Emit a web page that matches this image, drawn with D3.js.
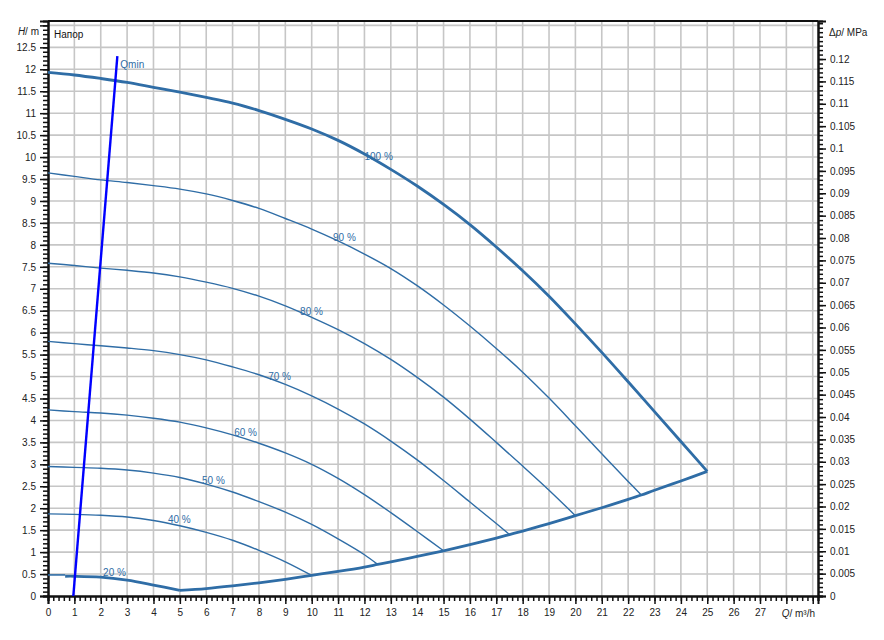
<!DOCTYPE html>
<html><head><meta charset="utf-8">
<script src="https://cdn.jsdelivr.net/npm/d3@7"></script>
<style>
body{margin:0;background:#fff;}
svg text{font-family:"Liberation Sans",Arial,sans-serif;}
</style></head>
<body><svg id="c" width="884" height="640"></svg>
<script>
// ---- data (Q in m³/h, H in m) ----
const curve100 = [[0,11.93],[1,11.87],[2,11.79],[3,11.7],[4,11.59],[5,11.48],[6,11.36],[7,11.23],[8,11.06],[9,10.86],[10,10.64],[11,10.38],[12,10.07],[13,9.72],[14,9.34],[15,8.92],[16,8.46],[17,7.95],[18,7.41],[19,6.83],[20,6.2],[21,5.55],[22,4.88],[23,4.2],[24,3.52],[25,2.84]];
const curve90 = [[0,9.64],[1,9.56],[2,9.48],[3,9.42],[4,9.35],[5,9.27],[6,9.16],[7,9.01],[8,8.83],[9,8.6],[10,8.36],[11,8.09],[12,7.79],[13,7.46],[14,7.07],[15,6.63],[16,6.15],[17,5.64],[18,5.1],[19,4.51],[20,3.88],[21,3.24],[22,2.61],[22.5,2.3]];
const curve80 = [[0,7.58],[1,7.53],[2,7.47],[3,7.42],[4,7.36],[5,7.27],[6,7.15],[7,7.01],[8,6.83],[9,6.61],[10,6.35],[11,6.07],[12,5.75],[13,5.39],[14,4.98],[15,4.53],[16,4.03],[17,3.5],[18,2.96],[19,2.41],[20,1.83]];
const curve70 = [[0,5.8],[1,5.75],[2,5.7],[3,5.65],[4,5.59],[5,5.5],[6,5.38],[7,5.22],[8,5.04],[9,4.82],[10,4.56],[11,4.26],[12,3.92],[13,3.53],[14,3.1],[15,2.63],[16,2.14],[17,1.65],[17.5,1.4]];
const curve60 = [[0,4.24],[1,4.2],[2,4.17],[3,4.12],[4,4.05],[5,3.96],[6,3.83],[7,3.67],[8,3.48],[9,3.26],[10,3.0],[11,2.68],[12,2.31],[13,1.9],[14,1.47],[15,1.03]];
const curve50 = [[0,2.95],[1,2.93],[2,2.91],[3,2.87],[4,2.8],[5,2.7],[6,2.55],[7,2.37],[8,2.15],[9,1.91],[10,1.63],[11,1.3],[12,0.94],[12.5,0.72]];
const curve40 = [[0,1.87],[1,1.86],[2,1.84],[3,1.8],[4,1.72],[5,1.6],[6,1.45],[7,1.27],[8,1.04],[9,0.78],[10,0.47]];
const curve20start = [[0,0.48],[0.65,0.48]];
const curve20 = [[0.65,0.45],[1,0.45],[2,0.43],[3,0.36],[4,0.25],[5,0.13]];
const systemCurve = [[5,0.13],[6,0.17],[7,0.23],[8,0.3],[9,0.38],[10,0.47],[11,0.56],[12,0.66],[12.5,0.72],[13,0.78],[14,0.9],[15,1.03],[16,1.17],[17,1.32],[17.5,1.4],[18,1.48],[19,1.65],[20,1.83],[21,2.01],[22,2.2],[22.5,2.3],[23,2.41],[24,2.62],[25,2.84]];
const qminLine = [[0.96,0],[2.63,12.3]];
const curveLabels = ["100 %","90 %","80 %","70 %","60 %","50 %","40 %","20 %"];
const labelPos = [[12.0,10.0],[10.81,8.14],[9.56,6.46],[8.35,4.97],[7.06,3.7],[5.84,2.62],[4.55,1.73],[2.09,0.52]];
const xTicks = d3.range(0,28,1);            // labels 0..27
const yTicks = d3.range(0,12.51,0.5);       // 0..12.5
const pTicks = d3.range(0,0.1201,0.005);    // 0..0.12 MPa

// ---- layout ----
const svg = d3.select("#c");
const L=48, R=818, T=21, B=596;
const x = d3.scaleLinear().domain([0,29.2]).range([L,R]);
const y = d3.scaleLinear().domain([0,13.1]).range([B,T]);
const p = d3.scaleLinear().domain([0,0.1285]).range([B,T]);
const blue = "#2f6da6";

// grid
const g = svg.append("g");
g.selectAll(".vg").data(d3.range(1,30)).join("line")
  .attr("x1",d=>x(d)).attr("x2",d=>x(d)).attr("y1",T).attr("y2",B)
  .attr("stroke","#c6c6c6").attr("stroke-width",1.6);
g.selectAll(".hg").data(d3.range(0.5,13.01,0.5)).join("line")
  .attr("y1",d=>y(d)).attr("y2",d=>y(d)).attr("x1",L).attr("x2",R)
  .attr("stroke","#c6c6c6").attr("stroke-width",1.6);

// axes
const tickCol="#111";
const ax = svg.append("g").attr("transform",`translate(0,${B})`)
  .call(d3.axisBottom(x).tickValues(d3.range(0,29.21,0.2)).tickFormat("").tickSize(5));
const axM = svg.append("g").attr("transform",`translate(0,${B})`)
  .call(d3.axisBottom(x).tickValues(xTicks.concat([28,29])).tickFormat((d)=> d<=27? d:"").tickSize(8).tickPadding(5));
const ay = svg.append("g").attr("transform",`translate(${L},0)`)
  .call(d3.axisLeft(y).tickValues(d3.range(0,13.01,0.1)).tickFormat("").tickSize(5));
const ayM = svg.append("g").attr("transform",`translate(${L},0)`)
  .call(d3.axisLeft(y).tickValues(yTicks.concat([13])).tickFormat(d=> d<=12.5? d:"").tickSize(8).tickPadding(4));
const ap = svg.append("g").attr("transform",`translate(${R},0)`)
  .call(d3.axisRight(p).tickValues(d3.range(0,0.1281,0.001)).tickFormat("").tickSize(5));
const apM = svg.append("g").attr("transform",`translate(${R},0)`)
  .call(d3.axisRight(p).tickValues(pTicks).tickFormat(d=>String(+d.toFixed(3))).tickSize(8).tickPadding(4));
[ax,axM,ay,ayM,ap,apM].forEach(a=>{
  a.selectAll("path").attr("stroke",tickCol).attr("stroke-width",2);
  a.selectAll("line").attr("stroke",tickCol).attr("stroke-width",1.5);
  a.selectAll("text").attr("font-size",10).attr("fill","#222").attr("font-family","Liberation Sans, Arial, sans-serif");
});
// frame top
svg.append("line").attr("x1",L).attr("x2",R).attr("y1",T).attr("y2",T).attr("stroke",tickCol).attr("stroke-width",2);

// axis titles
const t1 = svg.append("text").attr("x",39).attr("y",35).attr("text-anchor","end").attr("font-size",10).attr("fill","#222");
t1.append("tspan").attr("font-style","italic").text("H");
t1.append("tspan").text("/ m");
const t2 = svg.append("text").attr("x",829).attr("y",36).attr("font-size",10).attr("fill","#222");
t2.append("tspan").text("Δ");
t2.append("tspan").attr("font-style","italic").text("p");
t2.append("tspan").text("/ MPa");
const t3 = svg.append("text").attr("x",815).attr("y",617).attr("text-anchor","end").attr("font-size",10).attr("fill","#222");
t3.append("tspan").attr("font-style","italic").text("Q");
t3.append("tspan").text("/ m³/h");
svg.append("text").attr("x",54).attr("y",38).attr("font-size",10).attr("fill","#111").text("Напор");

// curves
const line = d3.line().x(d=>x(d[0])).y(d=>y(d[1])).curve(d3.curveCatmullRom.alpha(0.5));
const lin = d3.line().x(d=>x(d[0])).y(d=>y(d[1]));
const thin = [curve90,curve80,curve70,curve60,curve50,curve40];
thin.forEach(c=>svg.append("path").attr("d",line(c)).attr("fill","none").attr("stroke",blue).attr("stroke-width",1.4));
svg.append("path").attr("d",lin(curve20start)).attr("fill","none").attr("stroke",blue).attr("stroke-width",1.6);
[curve100,curve20,systemCurve].forEach(c=>svg.append("path").attr("d",line(c)).attr("fill","none").attr("stroke",blue).attr("stroke-width",2.8).attr("stroke-linejoin","round"));
svg.append("path").attr("d",lin(qminLine)).attr("stroke","#0000ff").attr("stroke-width",2.4).attr("fill","none");
svg.append("text").attr("x",x(qminLine[1][0])+3).attr("y",y(12.1)).attr("font-size",10).attr("fill",blue).attr("dominant-baseline","middle").text("Qmin");

curveLabels.forEach((t,i)=>{
  svg.append("text").attr("x",x(labelPos[i][0])).attr("y",y(labelPos[i][1])).attr("dominant-baseline","middle")
    .attr("font-size",10).attr("fill",blue).text(t);
});
</script></body></html>
